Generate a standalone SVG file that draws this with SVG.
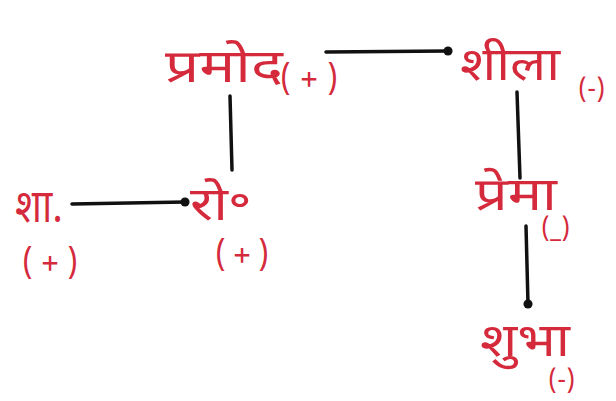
<svg xmlns="http://www.w3.org/2000/svg" width="616" height="401" viewBox="0 0 616 401">
<style>
.n{fill:#d42a3c;font-family:"Noto Sans Devanagari","Noto Sans","Lohit Devanagari",sans-serif;}
.big{font-size:46px;}
.sm{font-size:32px;}
.xs{font-size:26px;}
.c{stroke:#111;stroke-width:3.5;fill:none;stroke-linecap:round;}
</style>
<defs>
<marker id="dot" viewBox="0 0 6 6" refX="3" refY="3" markerWidth="3" markerHeight="3"><circle cx="3" cy="3" r="2.6" fill="#111"/></marker>
</defs>
<rect width="616" height="401" fill="#fff"/>
<g id="connectors">
<line class="c" x1="326" y1="52" x2="448" y2="51" marker-end="url(#dot)"/>
<line class="c" x1="230" y1="96" x2="232" y2="170"/>
<line class="c" x1="517" y1="92" x2="520" y2="178"/>
<line class="c" x1="72" y1="204" x2="185" y2="202" marker-end="url(#dot)"/>
<line class="c" x1="526" y1="226" x2="528" y2="304" marker-end="url(#dot)"/>
</g>
<g id="pramod"><text class="n big" x="165" y="82" textLength="118" lengthAdjust="spacingAndGlyphs">प्रमोद</text><text class="n sm" x="280" y="90" textLength="58" lengthAdjust="spacing">(+)</text></g>
<g id="sheela"><text class="n big" x="460" y="80" textLength="100" lengthAdjust="spacingAndGlyphs">शीला</text><text class="n xs" x="578" y="98">(-)</text></g>
<g id="sha"><text class="n big" x="15" y="222" textLength="48" lengthAdjust="spacingAndGlyphs">शा.</text><text class="n sm" x="22" y="274" textLength="56" lengthAdjust="spacing">(+)</text></g>
<g id="rau"><text class="n big" x="190" y="220" textLength="62" lengthAdjust="spacingAndGlyphs">रो॰</text><text class="n sm" x="215" y="266" textLength="54" lengthAdjust="spacing">(+)</text></g>
<g id="prema"><text class="n big" x="475" y="210" textLength="82" lengthAdjust="spacingAndGlyphs">प्रेमा</text><text class="n xs" x="541" y="237">(_)</text></g>
<g id="shubha"><text class="n big" x="480" y="356" textLength="90" lengthAdjust="spacingAndGlyphs">शुभा</text><text class="n xs" x="548" y="389">(-)</text></g>
</svg>
